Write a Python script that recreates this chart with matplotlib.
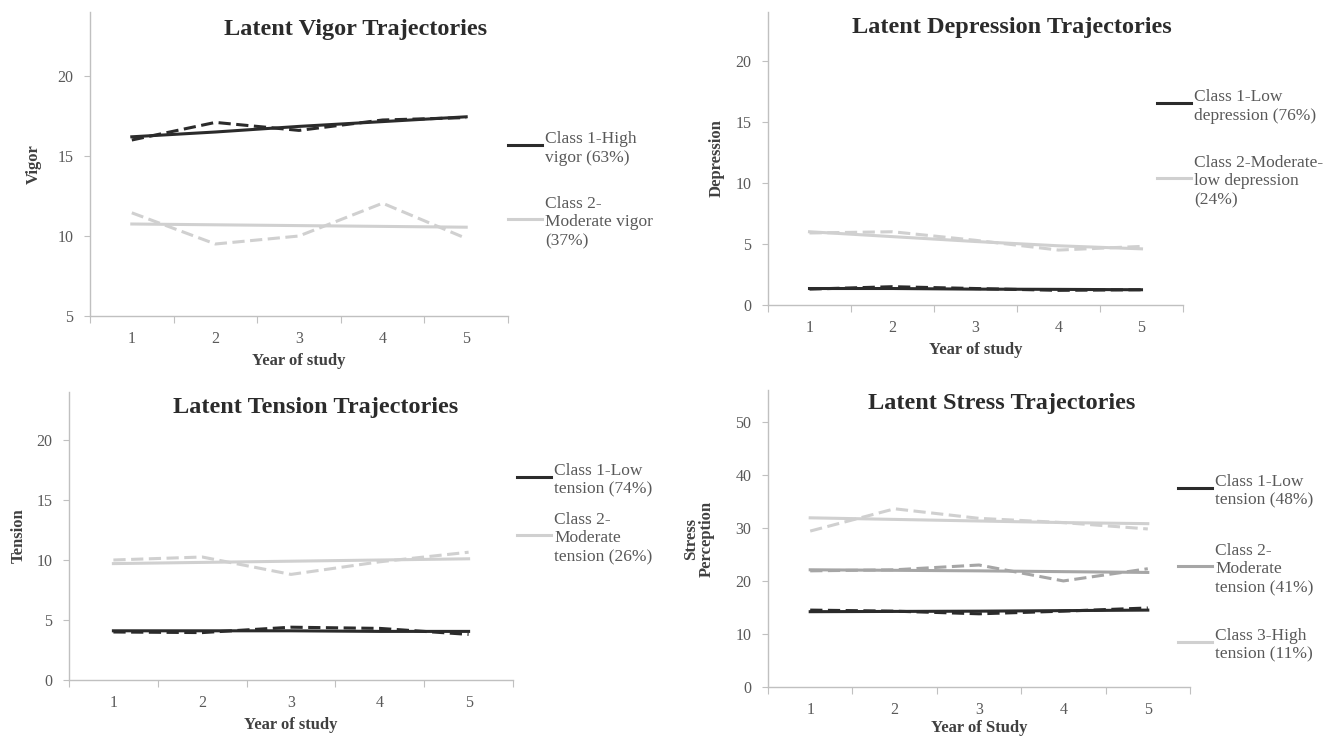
import matplotlib
matplotlib.use("Agg")
import matplotlib.pyplot as plt
from matplotlib.lines import Line2D

plt.rcParams['font.family'] = ['Liberation Serif', 'DejaVu Serif']

years = [1, 2, 3, 4, 5]

# Vigor
vigor_c1_est = [16.2, 16.5, 16.85, 17.15, 17.45]
vigor_c1_obs = [16.0, 17.1, 16.6, 17.25, 17.4]
vigor_c2_est = [10.75, 10.7, 10.65, 10.6, 10.55]
vigor_c2_obs = [11.45, 9.5, 10.0, 12.05, 9.85]

# Depression
dep_c1_est = [1.35, 1.35, 1.3, 1.28, 1.25]
dep_c1_obs = [1.3, 1.5, 1.35, 1.2, 1.25]
dep_c2_est = [6.0, 5.6, 5.2, 4.85, 4.6]
dep_c2_obs = [5.9, 6.0, 5.3, 4.5, 4.8]

# Tension
ten_c1_est = [4.1, 4.1, 4.1, 4.05, 4.05]
ten_c1_obs = [4.0, 3.95, 4.4, 4.3, 3.8]
ten_c2_est = [9.7, 9.8, 9.9, 10.0, 10.1]
ten_c2_obs = [10.0, 10.25, 8.8, 9.85, 10.65]

# Stress
str_c1_est = [14.2, 14.25, 14.3, 14.4, 14.5]
str_c1_obs = [14.5, 14.3, 13.8, 14.3, 14.9]
str_c2_est = [22.1, 22.0, 21.9, 21.75, 21.6]
str_c2_obs = [21.9, 22.1, 23.0, 20.0, 22.3]
str_c3_est = [31.9, 31.6, 31.3, 31.0, 30.8]
str_c3_obs = [29.4, 33.6, 31.8, 31.0, 29.8]

vigor_labels = ["Class 1-High\nvigor (63%)", "Class 2-\nModerate vigor\n(37%)"]
dep_labels = ["Class 1-Low\ndepression (76%)", "Class 2-Moderate-\nlow depression\n(24%)"]
ten_labels = ["Class 1-Low\ntension (74%)", "Class 2-\nModerate\ntension (26%)"]
str_labels = ["Class 1-Low\ntension (48%)", "Class 2-\nModerate\ntension (41%)",
              "Class 3-High\ntension (11%)"]

DARK = "#2b2b2b"
MID = "#a6a6a6"
LIGHT = "#d0d0d0"
AXIS = "#c0c0c0"
TICK = "#595959"
LAB = "#404040"

W, H = 1336, 741
fig = plt.figure(figsize=(W / 100, H / 100), dpi=100)


def px_axes(left, right, top, bottom):
    return fig.add_axes([left / W, 1 - bottom / H, (right - left) / W, (bottom - top) / H])


def style(ax, ylim, yticks, xlabel, ylabel, ylab_x, xpad=4):
    ax.set_xlim(0.5, 5.5)
    ax.set_ylim(*ylim)
    ax.set_yticks(yticks)
    ax.set_xticks([1.5, 2.5, 3.5, 4.5, 5.5, 0.5])
    ax.set_xticklabels([])
    ax.set_xticks(years, minor=True)
    ax.set_xticklabels([str(y) for y in years], minor=True)
    ax.tick_params(axis='x', which='minor', length=0, pad=11, labelsize=11.5, labelcolor=TICK)
    ax.tick_params(axis='x', which='major', length=5, color=AXIS, direction='out')
    ax.tick_params(axis='y', length=4, color=AXIS, pad=8, labelsize=11.5, labelcolor=TICK)
    for s in ['top', 'right']:
        ax.spines[s].set_visible(False)
    for s in ['left', 'bottom']:
        ax.spines[s].set_color(AXIS)
        ax.spines[s].set_linewidth(1)
    ax.set_xlabel(xlabel, fontsize=12, fontweight='bold', color=LAB, labelpad=xpad)
    ax.set_ylabel(ylabel, fontsize=12, fontweight='bold', color=LAB, linespacing=1.0)
    ax.yaxis.set_label_coords(ylab_x, 0.5)


def series(ax, est, obs, color, lw=2.2):
    ax.plot(years, obs, color=color, lw=lw, ls=(0, (4, 1.8)), clip_on=False)
    ax.plot(years, est, color=color, lw=lw, clip_on=False)


def legend(x0, ys, labels, colors):
    for y, lab, c in zip(ys, labels, colors):
        fig.add_artist(Line2D([x0 / W, (x0 + 34) / W], [1 - y / H, 1 - y / H], color=c, lw=2.2))
        fig.text((x0 + 37) / W, 1 - y / H, lab, fontsize=12.5, color=TICK,
                 va='center_baseline', ha='left', linespacing=1.22)


def title(x, y, text):
    fig.text(x / W, 1 - y / H, text, fontsize=17.5, fontweight='bold', color=DARK,
             ha='center', va='center')


# Vigor
ax1 = px_axes(90, 508, 12, 316)
series(ax1, vigor_c1_est, vigor_c1_obs, DARK)
series(ax1, vigor_c2_est, vigor_c2_obs, LIGHT)
style(ax1, (5, 24), [5, 10, 15, 20], "Year of study", "Vigor", -0.115)
title(356, 29, "Latent Vigor Trajectories")
legend(508, [145, 219], vigor_labels, [DARK, LIGHT])

# Depression
ax2 = px_axes(768, 1183, 12, 305)
series(ax2, dep_c1_est, dep_c1_obs, DARK)
series(ax2, dep_c2_est, dep_c2_obs, LIGHT)
style(ax2, (0, 24), [0, 5, 10, 15, 20], "Year of study", "Depression", -0.105)
title(1012, 28, "Latent Depression Trajectories")
legend(1157, [103, 178], dep_labels, [DARK, LIGHT])

# Tension
ax3 = px_axes(69, 513, 392, 680)
series(ax3, ten_c1_est, ten_c1_obs, DARK)
series(ax3, ten_c2_est, ten_c2_obs, LIGHT)
style(ax3, (0, 24), [0, 5, 10, 15, 20], "Year of study", "Tension", -0.095)
title(316, 407, "Latent Tension Trajectories")
legend(517, [477, 535], ten_labels, [DARK, LIGHT])

# Stress
ax4 = px_axes(768, 1190, 390, 687)
series(ax4, str_c1_est, str_c1_obs, DARK)
series(ax4, str_c2_est, str_c2_obs, MID)
series(ax4, str_c3_est, str_c3_obs, LIGHT)
style(ax4, (0, 56), [0, 10, 20, 30, 40, 50], "Year of Study", "Stress\nPerception", -0.125,
      xpad=1)
title(1002, 404, "Latent Stress Trajectories")
legend(1178, [488, 566, 642], str_labels, [DARK, MID, LIGHT])

fig.savefig("out.png", dpi=100, facecolor='white')
